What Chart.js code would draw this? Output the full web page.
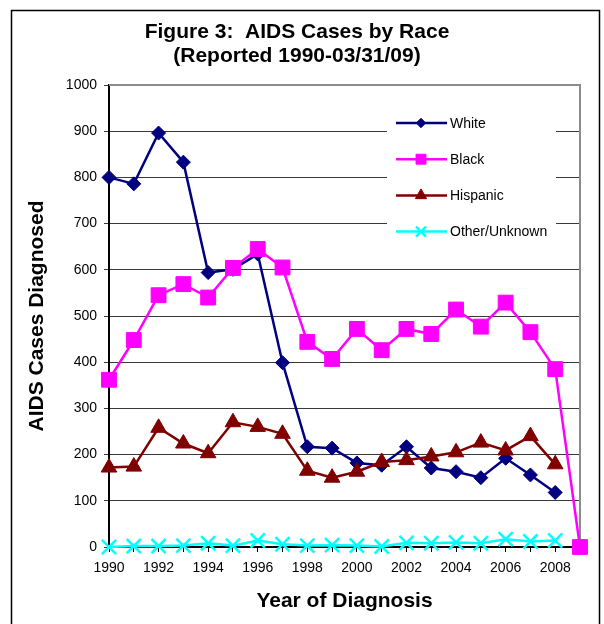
<!DOCTYPE html>
<html>
<head>
<meta charset="utf-8">
<script src="https://cdn.jsdelivr.net/npm/chart.js@4.4.1/dist/chart.umd.min.js"></script>
<style>
  html, body { margin: 0; padding: 0; background: #fff; }
  canvas { display: block; }
</style>
</head>
<body>
<canvas id="myChart" width="604" height="624"></canvas>
<script>
// Data
const years = [
    "1990", "1991", "1992", "1993", "1994", "1995", "1996", "1997", "1998", "1999",
    "2000", "2001", "2002", "2003", "2004", "2005", "2006", "2007", "2008", "2009"
];
const white    = [800, 786, 896, 833, 594, 601, 634, 399, 217, 214, 182, 177, 217, 171, 163, 150, 192, 156, 118, null];
const black    = [362, 448, 545, 569, 540, 604, 645, 605, 444, 407, 472, 426, 472, 461, 514, 477, 529, 465, 385, 0];
const hispanic = [172, 174, 258, 224, 203, 270, 260, 245, 165, 150, 163, 184, 188, 196, 205, 226, 209, 240, 179, null];
const other    = [0, 2, 2, 3, 8, 3, 14, 6, 3, 4, 3, 1, 9, 8, 10, 8, 17, 12, 14, null];

const FONT = '"Liberation Sans", Arial, sans-serif';

// white page + outer frame + grey plot border + legend box
const frame = {
    id: 'frame',
    beforeDraw(chart) {
        const c = chart.ctx;
        c.save();
        c.fillStyle = '#fff';
        c.fillRect(0, 0, chart.width, chart.height);
        c.strokeStyle = '#000';
        c.lineWidth = 1.5;
        c.strokeRect(11.5, 10.5, 588, 700);
        c.restore();
    },
    beforeDatasetsDraw(chart) {
        const c = chart.ctx;
        const a = chart.chartArea;
        c.save();
        c.strokeStyle = '#8c8c8c';
        c.lineWidth = 2;
        c.beginPath();
        c.moveTo(a.left, a.top);
        c.lineTo(a.right, a.top);
        c.lineTo(a.right, a.bottom);
        c.stroke();

        // legend
        c.fillStyle = '#fff';
        c.fillRect(387, 104, 169, 148);
        const sizes = [4.7, 7, 6.5, 7];
        chart.data.datasets.forEach((ds, i) => {
            const y = 123 + i * 36.2;
            c.strokeStyle = ds.borderColor;
            c.fillStyle = ds.borderColor;
            c.lineWidth = 2.5;
            c.beginPath();
            c.moveTo(396, y);
            c.lineTo(447, y);
            c.stroke();
            c.lineWidth = ds.pointStyle === 'crossRot' ? 2.5 : 1;
            Chart.helpers.drawPoint(c, {
                pointStyle: ds.pointStyle,
                radius: sizes[i],
                borderWidth: c.lineWidth
            }, 421, y);
            c.fillStyle = '#000';
            c.font = '14px ' + FONT;
            c.textBaseline = 'middle';
            c.textAlign = 'left';
            c.fillText(ds.label, 450, y + 1);
        });
        c.restore();
    }
};

function series(label, data, color, style, radius, order) {
    return {
        label: label,
        data: data,
        borderColor: color,
        backgroundColor: color,
        pointBackgroundColor: color,
        pointBorderColor: color,
        pointStyle: style,
        pointRadius: radius,
        pointHoverRadius: radius,
        pointBorderWidth: style === 'crossRot' ? 2.5 : 1,
        borderWidth: 2.5,
        tension: 0,
        clip: false,
        spanGaps: false,
        order: order
    };
}

const ctx = document.getElementById('myChart').getContext('2d');
const myChart = new Chart(ctx, {
    type: 'line',
    data: {
        labels: years,
        datasets: [
            series('White', white, '#000080', 'rectRot', 7, 4),
            series('Black', black, '#ff00ff', 'rect', 10.5, 3),
            series('Hispanic', hispanic, '#800000', 'triangle', 9, 2),
            series('Other/Unknown', other, '#00ffff', 'crossRot', 10, 1),
        ],
    },
    plugins: [frame],
    options: {
        responsive: false,
        animation: false,
        events: [],
        layout: {
            padding: { left: 14, right: 24, top: 12, bottom: 0 }
        },
        plugins: {
            legend: { display: false },
            tooltip: { enabled: false },
            title: {
                display: true,
                text: ['Figure 3:  AIDS Cases by Race', '(Reported 1990-03/31/09)'],
                color: '#000',
                font: { family: FONT, size: 21, weight: 'bold', lineHeight: '23.5px' },
                padding: { top: 8.5, bottom: 17.5 }
            }
        },
        scales: {
            x: {
                type: 'category',
                offset: false,
                grid: {
                    offset: false,
                    drawOnChartArea: false,
                    drawTicks: true,
                    tickLength: 5,
                    color: '#000'
                },
                border: { color: '#000', width: 2 },
                ticks: {
                    autoSkip: false,
                    maxRotation: 0,
                    padding: 8,
                    color: '#000',
                    font: { family: FONT, size: 14 },
                    callback: function (value, index) {
                        return index % 2 === 0 ? this.getLabelForValue(value) : '';
                    }
                },
                title: {
                    display: true,
                    text: 'Year of Diagnosis',
                    color: '#000',
                    font: { family: FONT, size: 21, weight: 'bold' },
                    padding: { top: 0, bottom: 10 }
                },
                afterFit(scale) { scale.height = 77; }
            },
            y: {
                min: 0,
                max: 1000,
                grid: {
                    color: '#3a3a3a',
                    lineWidth: 1,
                    drawTicks: true,
                    tickLength: 5
                },
                border: { color: '#000', width: 2 },
                ticks: {
                    stepSize: 100,
                    padding: 7,
                    color: '#000',
                    font: { family: FONT, size: 14 },
                    callback: (value) => String(value)
                },
                title: {
                    display: true,
                    text: 'AIDS Cases Diagnosed',
                    color: '#000',
                    font: { family: FONT, size: 21, weight: 'bold' },
                    padding: { top: 11, bottom: 0 }
                },
                afterFit(scale) { scale.width = 95; }
            },
        },
    },
});
</script>
</body>
</html>
